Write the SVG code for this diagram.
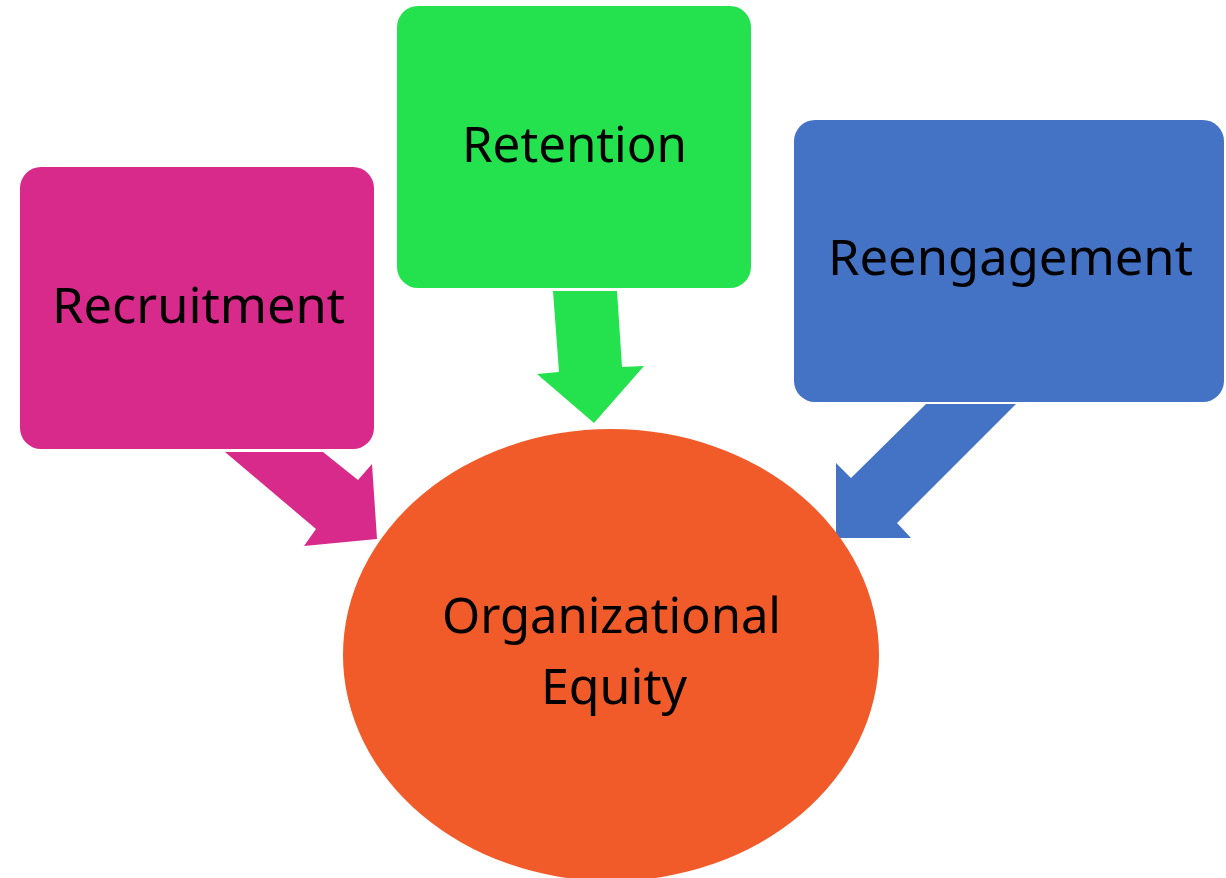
<svg xmlns="http://www.w3.org/2000/svg" width="1226" height="878" viewBox="0 0 1226 878">
<style>
.lbl{font-family:"Noto Sans","Open Sans","Liberation Sans",sans-serif;font-size:49px;fill:#000;}
</style>
<rect width="1226" height="878" fill="#fff"/>
<g id="connectors">
<polygon fill="#D72A8A" points="225,452 323,452 358,480 372,464 377,539 304,546 316,529"/>
<polygon fill="#23E24D" points="553,291 617,291 622,367 644,366 594,423 537,374 559,372"/>
<polygon fill="#4473C5" points="1016,404 926,404 851,478 836,463 836,538 911,538 897,523"/>
</g>
<g id="recruitment">
<rect x="20" y="167" width="354" height="282" rx="21" fill="#D72A8A"/>
<text class="lbl" x="52" y="323" textLength="293" lengthAdjust="spacingAndGlyphs">Recruitment</text>
</g>
<g id="retention">
<rect x="397" y="6" width="354" height="282" rx="21" fill="#23E24D"/>
<text class="lbl" x="462" y="162" textLength="225" lengthAdjust="spacingAndGlyphs">Retention</text>
</g>
<g id="reengagement">
<rect x="794" y="120" width="430" height="282" rx="21" fill="#4473C5"/>
<text class="lbl" x="828" y="275" textLength="365" lengthAdjust="spacingAndGlyphs">Reengagement</text>
</g>
<g id="organizational-equity">
<ellipse cx="611" cy="655" rx="268" ry="226" fill="#F15A29"/>
<text class="lbl" x="442" y="633" textLength="339" lengthAdjust="spacingAndGlyphs">Organizational</text>
<text class="lbl" x="541" y="704" textLength="146" lengthAdjust="spacingAndGlyphs">Equity</text>
</g>
</svg>
